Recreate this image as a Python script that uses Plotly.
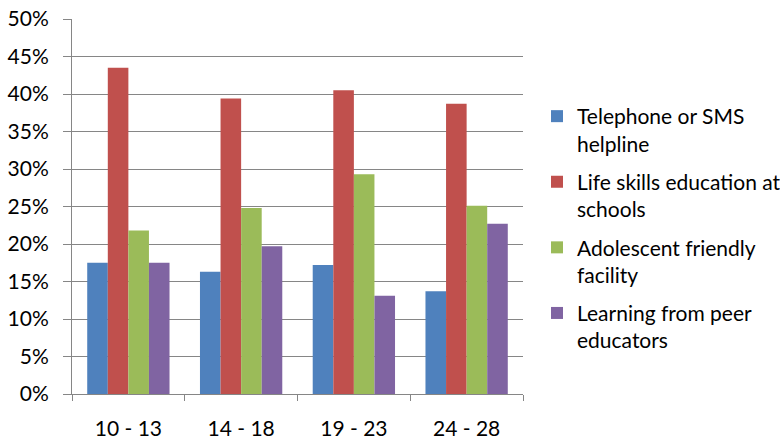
import plotly.graph_objects as go

categories = ["10 - 13", "14 - 18", "19 - 23", "24 - 28"]
series_names = [
    "Telephone or SMS<br>helpline",
    "Life skills education at<br>schools",
    "Adolescent friendly<br>facility",
    "Learning from peer<br>educators",
]
telephone = [0.175, 0.163, 0.172, 0.137]
life_skills = [0.435, 0.394, 0.405, 0.387]
adolescent = [0.218, 0.248, 0.293, 0.251]
peer = [0.175, 0.197, 0.131, 0.227]
colors = ["#4F81BD", "#C0504D", "#9BBB59", "#8064A2"]
y_ticks = [0, 0.05, 0.10, 0.15, 0.20, 0.25, 0.30, 0.35, 0.40, 0.45, 0.50]

font_family = "Lato"
fs = 21

fig = go.Figure()
for i, (name, vals) in enumerate(zip(series_names, [telephone, life_skills, adolescent, peer])):
    fig.add_trace(go.Bar(
        x=categories, y=vals, name=name, marker_color=colors[i],
        marker_line_width=0, legendgroup=f"g{i}",
    ))

fig.update_layout(
    width=780, height=440,
    margin=dict(l=72, r=257, t=19, b=46, autoexpand=False),
    paper_bgcolor="white", plot_bgcolor="white",
    font=dict(family=font_family, size=fs, color="#000000"),
    barmode="group", bargap=0.27, bargroupgap=0,
    showlegend=True,
    legend=dict(
        xref="container", yref="container",
        x=537 / 780, y=1 - 96 / 440, xanchor="left", yanchor="top",
        valign="top", tracegroupgap=8, traceorder="grouped",
        maxheight=430,
        font=dict(family=font_family, size=fs, color="#000000"),
        bgcolor="rgba(0,0,0,0)", borderwidth=0,
    ),
    xaxis=dict(
        showline=True, linecolor="#868686", linewidth=1,
        ticks="outside", tickson="boundaries", ticklen=6, tickcolor="#868686",
        showgrid=False, ticklabelstandoff=16, automargin=False,
    ),
    yaxis=dict(
        range=[0, 0.5], tickvals=y_ticks, tickformat=".0%",
        showline=True, linecolor="#868686", linewidth=1,
        ticks="outside", ticklen=8, tickcolor="#868686",
        showgrid=True, gridcolor="#868686", gridwidth=1,
        zeroline=False, ticklabelstandoff=10, automargin=False,
    ),
)

fig.write_html(
    "out.html",
    config={"displayModeBar": False},
    post_script="document.body.style.margin='0';document.body.style.padding='0';",
)
